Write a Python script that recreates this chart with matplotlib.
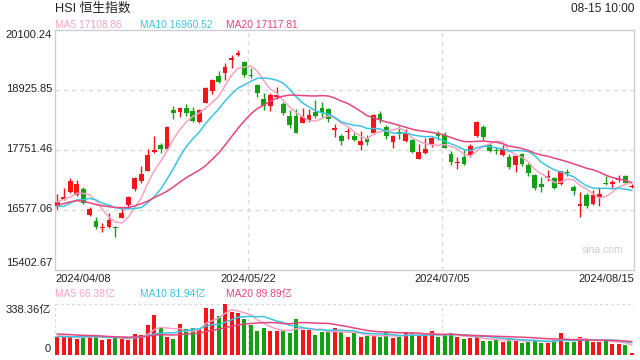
import matplotlib
matplotlib.use("Agg")
import matplotlib.pyplot as plt
import numpy as np
import pandas as pd

plt.rcParams['font.family'] = ['Liberation Sans', 'Noto Sans CJK SC', 'DejaVu Sans']

# ---------------- data ----------------
date_labels = ["2024/04/08", "2024/05/22", "2024/07/05", "2024/08/15"]
date_label_idx = [0, 30, 60, 89]

opens = [16662, 16800, 16936, 16864, 16988, 16486, 16362, 16230, 16251, 16240,
         16427, 16675, 16988, 17151, 17347, 17720, 17849, 17765, 18534, 18502,
         18574, 18515, 18306, 18678, 18913, 19206, 19265, 19520, 19620, 19474,
         19226, 19024, 18750, 18619, 18790, 18652, 18417, 18417, 18287, 18339,
         18502, 18580, 18548, 18150, 18026, 18100, 18025, 17856, 17973, 18078,
         18450, 18195, 17915, 18085, 17934, 17947, 17582, 17686, 17869, 18080,
         18045, 17667, 17490, 17608, 17654, 18025, 18195, 17849, 17760, 17654,
         17608, 17458, 17673, 17458, 17262, 17086, 17200, 17197, 17080, 17320,
         17034, 16660, 16871, 16695, 16806, 17100, 17095, 17160, 17243, 17030]
highs = [16890, 17000, 17197, 17160, 17034, 16642, 16447, 16316, 16512, 16260,
         16610, 16851, 17230, 17438, 17765, 18032, 17882, 18222, 18613, 18587,
         18646, 18600, 18552, 18991, 19135, 19298, 19448, 19611, 19709, 19493,
         19363, 19037, 18861, 18861, 18991, 18698, 18535, 18548, 18567, 18548,
         18730, 18698, 18574, 18260, 18065, 18176, 18078, 18123, 18039, 18456,
         18521, 18234, 18045, 18222, 18156, 17960, 17862, 17980, 18000, 18130,
         18110, 17732, 17608, 17752, 17869, 18320, 18241, 17895, 17817, 17850,
         17673, 17654, 17699, 17490, 17282, 17216, 17360, 17216, 17347, 17373,
         17066, 16923, 16903, 16969, 17021, 17243, 17170, 17262, 17262, 17086]
lows = [16590, 16780, 16903, 16850, 16700, 16466, 16200, 16153, 16218, 16055,
        16414, 16643, 16955, 17112, 17347, 17686, 17699, 17752, 18365, 18391,
        18417, 18306, 18287, 18665, 18848, 19056, 19121, 19350, 19591, 19187,
        19154, 18782, 18535, 18515, 18743, 18437, 18176, 18078, 18274, 18306,
        18371, 18391, 18306, 18000, 17850, 17967, 17928, 17752, 17850, 18065,
        18287, 17973, 17797, 17960, 17915, 17686, 17575, 17673, 17804, 17947,
        17790, 17458, 17373, 17458, 17621, 18012, 17947, 17719, 17673, 17634,
        17373, 17314, 17438, 17249, 16969, 16936, 17151, 16982, 17060, 17243,
        16871, 16447, 16623, 16675, 16656, 17066, 17001, 17132, 17099, 17001]
closes = [16733, 16828, 17139, 17095, 16721, 16600, 16248, 16251, 16385, 16224,
          16511, 16828, 17201, 17284, 17651, 17747, 17763, 18207, 18476, 18578,
          18479, 18313, 18538, 18964, 19115, 19073, 19376, 19553, 19636, 19221,
          19196, 18868, 18609, 18827, 18821, 18477, 18231, 18079, 18403, 18444,
          18425, 18476, 18367, 18176, 17937, 18113, 17942, 17936, 17916, 18430,
          18335, 18028, 18027, 18072, 18089, 17716, 17719, 17769, 17978, 18028,
          17799, 17524, 17523, 17471, 17832, 18293, 18015, 17727, 17739, 17778,
          17418, 17635, 17469, 17311, 17005, 17021, 17238, 17004, 17344, 17304,
          16945, 16698, 16647, 16877, 16891, 17090, 17112, 17174, 17113, 17055]
# turnover (亿)
volumes = [120, 120, 118, 109, 127, 125, 131, 102, 109, 118,
           109, 102, 140, 133, 202, 267, 180, 120, 107, 209,
           176, 180, 171, 314, 307, 262, 338.36, 285, 278, 240,
           200, 162, 180, 162, 162, 162, 149, 240, 169, 167,
           131, 156, 151, 180, 156, 120, 149, 120, 127, 127,
           120, 151, 113, 120, 153, 149, 129, 127, 160, 120,
           136, 147, 120, 107, 113, 120, 96, 96, 100, 87,
           109, 100, 83, 89, 100, 82, 82, 100, 145, 89,
           89, 122, 98, 89, 89, 102, 75, 75, 68, 12]

# sessions before the window (estimated from where the MA lines start)
prior_closes = [16330, 16453, 16588, 17093, 17082, 16962, 16721, 16737, 16530, 16544,
                16864, 16499, 16473, 16618, 16392, 16541, 16931, 16725, 16724]
prior_volumes = [150, 165, 170, 160, 155, 150, 160, 155, 160, 155,
                 115, 120, 110, 125, 115, 125, 130, 135, 125]

price_tick_labels = ["20100.24", "18925.85", "17751.46", "16577.06", "15402.67"]
price_ticks = [20100.24, 18925.85, 17751.46, 16577.07, 15402.67]
vol_max = 338.36

title = "HSI 恒生指数"
time_text = "08-15 10:00"
ma_periods = [5, 10, 20]
price_ma_text = ["MA5 17108.86", "MA10 16960.52", "MA20 17117.81"]
vol_ma_text = ["MA5 66.38亿", "MA10 81.94亿", "MA20 89.89亿"]
vol_tick_labels = ["338.36亿", "0"]

# ---------------- style ----------------
W, H = 640, 360
UP, DOWN = '#f5141a', '#12a112'
MA_COLORS = ['#f7a3c3', '#3cc3e2', '#e8457c']
GRID = '#d9d9d9'
TXT = '#222222'

fig = plt.figure(figsize=(W / 100, H / 100), dpi=100)


def fx(x):
    return x / W


def fy(y):
    return 1 - y / H


L, R = 55, 634
ax = fig.add_axes([fx(L), fy(270), (R - L) / W, 240 / H])
axv = fig.add_axes([fx(L), fy(355), (R - L) / W, (355 - 304.3) / H])

n = len(closes)
idx = np.arange(n)
o = np.array(opens, float)
c = np.array(closes, float)
hi = np.array(highs, float)
lo = np.array(lows, float)
v = np.array(volumes, float)
colors = [UP if cc >= oo else DOWN for oo, cc in zip(o, c)]

xlim = (-0.36, n - 1 + 0.36)

# candles
ax.vlines(idx, lo, hi, colors=colors, linewidth=1.0, zorder=3)
body_lo = np.minimum(o, c)
body_h = np.maximum(np.abs(c - o), 22)
ax.bar(idx, body_h, bottom=body_lo, width=0.74, color=colors, linewidth=0, zorder=4)

# moving averages
all_c = pd.Series(list(prior_closes) + list(closes), dtype=float)
all_v = pd.Series(list(prior_volumes) + list(volumes), dtype=float)
k = len(prior_closes)
for p, col in zip(ma_periods, MA_COLORS):
    ma = all_c.rolling(p).mean().to_numpy()[k:]
    ax.plot(idx, ma, color=col, linewidth=1.1, zorder=5)
    mav = all_v.rolling(p).mean().to_numpy()[k:]
    axv.plot(idx, mav, color=col, linewidth=1.1, zorder=5)

ax.set_xlim(*xlim)
ax.set_ylim(price_ticks[-1], price_ticks[0])
for t in price_ticks[1:-1]:
    ax.axhline(t, color=GRID, linewidth=1.0, linestyle=(0, (3, 3)), zorder=1)
for i in date_label_idx[1:-1]:
    ax.axvline(i - 0.4, color=GRID, linewidth=1.0, linestyle=(0, (3, 3)), zorder=1)
    axv.axvline(i - 0.4, color=GRID, linewidth=1.0, linestyle=(0, (2, 2)), zorder=1)
for s in ax.spines.values():
    s.set_color('#cfcfcf')
    s.set_linewidth(1.0)
ax.set_xticks([])
ax.set_yticks([])

# volume
axv.bar(idx, v, width=0.62, color=colors, linewidth=0, zorder=3)
axv.set_xlim(*xlim)
axv.set_ylim(0, vol_max)
for s in axv.spines.values():
    s.set_visible(False)
axv.axhline(vol_max, color=GRID, linewidth=1.0, linestyle=(0, (2, 2)), zorder=1)
axv.axhline(0, color=GRID, linewidth=1.0, linestyle=(0, (2, 2)), zorder=1)
axv.axvline(xlim[0], color=GRID, linewidth=1.0, linestyle=(0, (2, 2)), zorder=1)
axv.set_xticks([])
axv.set_yticks([])

# ---------------- texts ----------------
fig.text(fx(55), fy(8.5), title, fontsize=9.2, color=TXT, ha='left', va='center')
fig.text(fx(634), fy(8.5), time_text, fontsize=8.6, color=TXT, ha='right', va='center')
for txt, col, x in zip(price_ma_text, MA_COLORS, [55, 140.5, 225.5]):
    fig.text(fx(x), fy(24.5), txt, fontsize=7.4, color=col, ha='left', va='center')
for txt, col, x in zip(vol_ma_text, MA_COLORS, [55, 140.5, 225.5]):
    fig.text(fx(x), fy(294.5), txt, fontsize=7.4, color=col, ha='left', va='center')

tick_y = [30, 90, 150, 210, 270]
for lab, y in zip(price_tick_labels, tick_y):
    if y == 30:
        fig.text(fx(52), fy(30.5), lab, fontsize=8, color=TXT, ha='right', va='top')
    elif y == 270:
        fig.text(fx(52), fy(268), lab, fontsize=8, color=TXT, ha='right', va='bottom')
    else:
        fig.text(fx(52), fy(y - 1), lab, fontsize=8, color=TXT, ha='right', va='center')

fig.text(fx(51), fy(305), vol_tick_labels[0], fontsize=8, color=TXT, ha='right', va='top')
fig.text(fx(51), fy(354), vol_tick_labels[1], fontsize=8, color=TXT, ha='right', va='bottom')

for lab, i in zip(date_labels, date_label_idx):
    if i == date_label_idx[0]:
        ha, xpos = 'left', xlim[0]
    elif i == date_label_idx[-1]:
        ha, xpos = 'right', xlim[1]
    else:
        ha, xpos = 'center', i - 0.4
    ax.text(xpos, -0.017, lab, transform=ax.get_xaxis_transform(), fontsize=8,
            color=TXT, ha=ha, va='top')

fig.text(fx(602), fy(250), "sina.com", fontsize=7.5, color='#cccccc', ha='center', va='center')

fig.savefig("out.png", dpi=100)
